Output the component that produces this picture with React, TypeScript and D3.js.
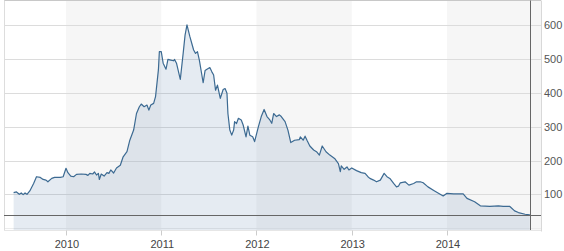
import React from "react";
import * as d3 from "d3";

// Decimal-year dates and prices
const dates: number[] = [
  2009.45, 2009.48, 2009.51, 2009.53, 2009.55, 2009.57, 2009.59, 2009.62, 2009.66, 2009.69,
  2009.73, 2009.76, 2009.79, 2009.81, 2009.85, 2009.88, 2009.94, 2009.97, 2010.0, 2010.02,
  2010.05, 2010.08, 2010.11, 2010.16, 2010.21, 2010.23, 2010.25, 2010.28, 2010.3, 2010.32,
  2010.34, 2010.35, 2010.37, 2010.4, 2010.43, 2010.45, 2010.47, 2010.5, 2010.53, 2010.57,
  2010.6, 2010.64, 2010.67, 2010.71, 2010.74, 2010.77, 2010.79, 2010.82, 2010.85, 2010.87,
  2010.89, 2010.92, 2010.94, 2010.97, 2010.98, 2011.0, 2011.02, 2011.05, 2011.07, 2011.1,
  2011.13, 2011.14, 2011.16, 2011.2, 2011.23, 2011.25, 2011.27, 2011.3, 2011.32, 2011.34,
  2011.36, 2011.38, 2011.4, 2011.44, 2011.46, 2011.48, 2011.51, 2011.53, 2011.55, 2011.57,
  2011.59, 2011.62, 2011.65, 2011.67, 2011.69, 2011.7, 2011.72, 2011.74, 2011.76, 2011.77,
  2011.79, 2011.81, 2011.84, 2011.86, 2011.89, 2011.91, 2011.93, 2011.96, 2011.98, 2012.02,
  2012.05, 2012.08, 2012.11, 2012.14, 2012.16, 2012.18, 2012.21, 2012.24, 2012.26, 2012.3,
  2012.33, 2012.36, 2012.4, 2012.45, 2012.46, 2012.49, 2012.51, 2012.53, 2012.56, 2012.6,
  2012.63, 2012.66, 2012.69, 2012.73, 2012.77, 2012.82, 2012.86, 2012.88, 2012.89, 2012.92,
  2012.95, 2012.97, 2013.0, 2013.05, 2013.1, 2013.14, 2013.17, 2013.19, 2013.23, 2013.26,
  2013.3, 2013.34, 2013.37, 2013.4, 2013.44, 2013.47, 2013.49, 2013.51, 2013.56, 2013.6,
  2013.65, 2013.68, 2013.72, 2013.75, 2013.8, 2013.87, 2013.96, 2014.0, 2014.07, 2014.17,
  2014.21, 2014.29, 2014.35, 2014.45, 2014.54, 2014.59, 2014.66, 2014.71, 2014.75, 2014.82,
  2014.87,
];

const prices: number[] = [
  105, 107, 100, 104, 99, 104, 100, 110, 132, 152,
  150, 144, 142, 137, 147, 150, 150, 152, 177, 164,
  154, 152, 159, 160, 159, 156, 162, 160, 166, 157,
  162, 144, 160, 154, 164, 162, 172, 163, 178, 186,
  211, 226, 260, 290, 339, 359, 367, 359, 364, 349,
  364, 369, 389, 468, 522, 522, 488, 470, 499, 497,
  495, 499, 488, 440, 517, 571, 601, 567, 547, 527,
  517, 522, 497, 430, 466, 470, 475, 463, 453, 408,
  423, 384, 410, 413, 399, 339, 290, 275, 290, 315,
  309, 325, 320, 305, 270, 302, 275, 270, 256, 300,
  330, 351, 330, 320, 310, 339, 330, 335, 330, 315,
  290, 253, 260, 262, 270, 260, 272, 260, 243, 231,
  226, 216, 243, 226, 216, 206, 191, 167, 184, 174,
  181, 172, 178, 170, 164, 162, 152, 147, 142, 137,
  142, 162, 152, 147, 132, 122, 124, 134, 137, 127,
  132, 137, 137, 134, 122, 110, 95, 103, 101, 101,
  88, 78, 66, 64, 66, 64, 64, 51, 46, 41,
  39,
];

const gridValues: number[] = [0, 100, 200, 300, 400, 500, 600];
const yTickLabels: number[] = [100, 200, 300, 400, 500, 600];
const yearTicks: number[] = [2010, 2011, 2012, 2013, 2014];
const shadedYears: number[] = [2010, 2012, 2014];

export default function App() {
  const W = 564;
  const H = 251;
  const plotLeft = 4;
  const plotRight = 541;
  const plotTop = 0.5;
  const plotBottom = 230.5;

  const x = d3.scaleLinear().domain([2009.349, 2014.987]).range([plotLeft, plotRight]);
  const y = d3.scaleLinear().domain([0, 600]).range([228.1, 25.3]);

  const data = dates.map((d, i) => ({ d, v: prices[i] }));
  const lastDate = dates[dates.length - 1];
  const lastPrice = prices[prices.length - 1];

  const area = d3
    .area<{ d: number; v: number }>()
    .x((p) => x(p.d))
    .y0(plotBottom)
    .y1((p) => y(p.v));
  const line = d3
    .line<{ d: number; v: number }>()
    .x((p) => x(p.d))
    .y((p) => y(p.v));

  const xEnd = x.domain()[1];

  return (
    <svg
      width={W}
      height={H}
      style={{ position: "absolute", left: 0, top: 0, background: "#fff" }}
      fontFamily="'Liberation Sans', Arial, sans-serif"
    >
      {shadedYears.map((yr) => (
        <rect
          key={yr}
          x={x(yr)}
          y={plotTop}
          width={x(Math.min(yr + 1, xEnd)) - x(yr)}
          height={plotBottom - plotTop}
          fill="#f6f6f6"
        />
      ))}
      {gridValues.map((v) => (
        <line
          key={v}
          x1={plotLeft}
          x2={plotRight}
          y1={Math.round(y(v)) + 0.5}
          y2={Math.round(y(v)) + 0.5}
          stroke={v === 0 ? "#ececec" : "#dcdcdc"}
          strokeWidth={1}
        />
      ))}
      <path d={area(data) || ""} fill="#4a6fa5" fillOpacity={0.14} />
      <path d={line(data) || ""} fill="none" stroke="#3c6a92" strokeWidth={1.2} strokeLinejoin="round" />
      {/* top border */}
      <line x1={plotLeft} x2={plotRight} y1={plotTop} y2={plotTop} stroke="#c8c8c8" />
      {/* left border */}
      <line x1={plotLeft + 0.5} x2={plotLeft + 0.5} y1={plotTop} y2={plotBottom} stroke="#dddddd" />
      {/* right light border */}
      <line x1={plotRight + 0.5} x2={plotRight + 0.5} y1={plotTop} y2={plotBottom + 1} stroke="#d8d8d8" />
      {/* last value horizontal line */}
      <line
        x1={plotLeft}
        x2={plotRight}
        y1={Math.round(y(lastPrice)) + 0.5}
        y2={Math.round(y(lastPrice)) + 0.5}
        stroke="#666"
        strokeWidth={1}
      />
      {/* last date vertical line */}
      <line
        x1={Math.round(x(lastDate)) + 0.5}
        x2={Math.round(x(lastDate)) + 0.5}
        y1={plotTop}
        y2={plotBottom}
        stroke="#666"
        strokeWidth={1}
      />
      {/* bottom line */}
      <line x1={plotLeft} x2={plotRight} y1={plotBottom} y2={plotBottom} stroke="#e6e6e6" />
      {yearTicks.map((yr) => (
        <g key={yr}>
          <line
            x1={Math.round(x(yr)) + 0.5}
            x2={Math.round(x(yr)) + 0.5}
            y1={plotBottom}
            y2={plotBottom + 5}
            stroke="#cccccc"
          />
          <text x={x(yr) + 1} y={248} textAnchor="middle" fontSize={11} fill="#444">
            {yr}
          </text>
        </g>
      ))}
      {yTickLabels.map((v) => (
        <text key={v} x={544} y={y(v) + 4} fontSize={11} fill="#555">
          {v}
        </text>
      ))}
    </svg>
  );
}
